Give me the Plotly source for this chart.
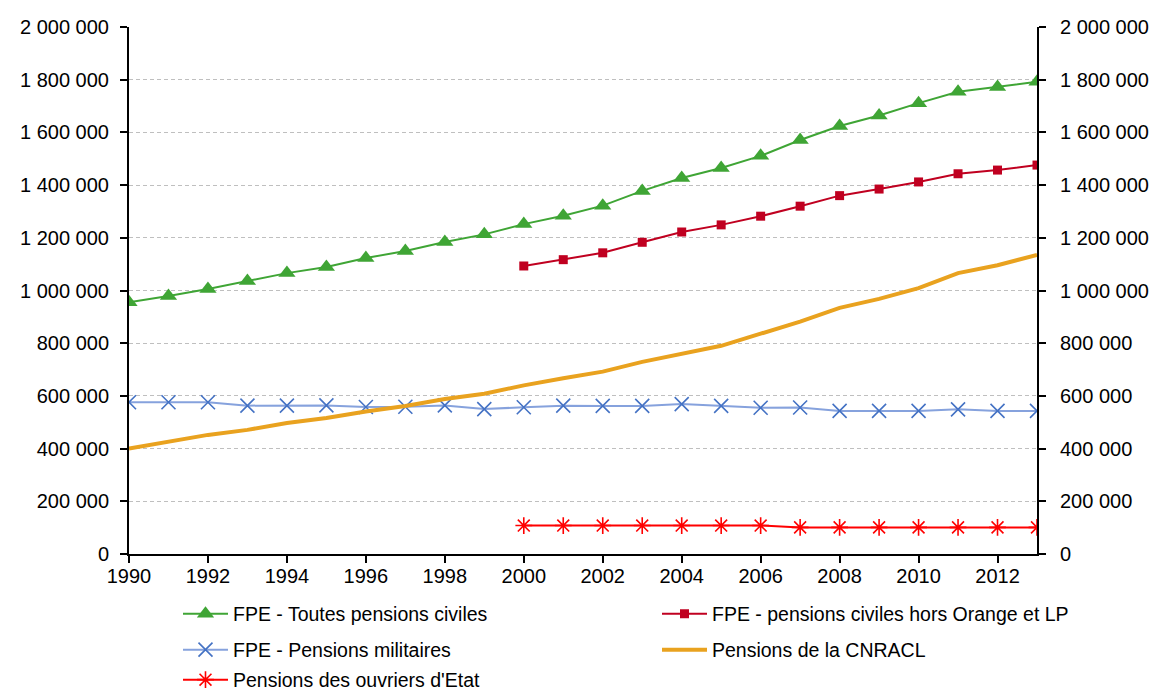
import plotly.graph_objects as go

years_all = list(range(1990, 2014))
years_2000 = list(range(2000, 2014))

# FPE - all civil pensions (1990-2013)
fpe_civiles = [955000, 979000, 1006000, 1036000, 1066000, 1089000, 1123000, 1150000,
               1184000, 1213000, 1252000, 1284000, 1322000, 1378000, 1427000, 1465000,
               1511000, 1571000, 1624000, 1664000, 1711000, 1754000, 1772000, 1792000]

# FPE - civil pensions excluding Orange and La Poste (2000-2013)
fpe_hors_orange_lp = [1093000, 1117000, 1143000, 1183000, 1222000, 1249000, 1282000,
                      1320000, 1360000, 1385000, 1412000, 1443000, 1457000, 1476000]

# FPE - military pensions (1990-2013)
fpe_militaires = [576000, 576000, 576000, 563000, 563000, 564000, 558000, 559000,
                  564000, 550000, 557000, 563000, 562000, 562000, 569000, 562000,
                  555000, 556000, 543000, 543000, 543000, 549000, 543000, 543000]

# CNRACL pensions (1990-2013)
cnracl = [400000, 426000, 452000, 471000, 497000, 516000, 541000, 562000,
          588000, 608000, 640000, 667000, 692000, 729000, 759000, 790000,
          836000, 882000, 934000, 968000, 1009000, 1066000, 1096000, 1135000]

# State workers' pensions (2000-2013)
ouvriers_etat = [108000, 108000, 108000, 108000, 108000, 108000, 108000,
                 101000, 101000, 101000, 101000, 101000, 101000, 101000]

FONT = "Liberation Sans, Arial, sans-serif"
W, H = 1162, 693
M_L, M_R, M_T, M_B = 129, 125, 27, 139

fig = go.Figure()

fig.add_trace(go.Scatter(
    x=years_all, y=fpe_civiles, mode="lines+markers",
    name="FPE - Toutes pensions civiles",
    line=dict(color="#3FA535", width=2),
    marker=dict(symbol="triangle-up", size=15, color="#3FA535"),
    legend="legend",
))
fig.add_trace(go.Scatter(
    x=years_2000, y=fpe_hors_orange_lp, mode="lines+markers",
    name="FPE - pensions civiles hors Orange et LP",
    line=dict(color="#C00020", width=2),
    marker=dict(symbol="square", size=9, color="#C00020"),
    legend="legend2",
))
fig.add_trace(go.Scatter(
    x=years_all, y=fpe_militaires, mode="lines+markers",
    name="FPE - Pensions militaires",
    line=dict(color="#86A2DD", width=2),
    marker=dict(symbol="x-thin-open", size=14, color="#4472C4",
                line=dict(color="#4472C4", width=1.6)),
    legend="legend3",
))
fig.add_trace(go.Scatter(
    x=years_all, y=cnracl, mode="lines",
    name="Pensions de la CNRACL",
    line=dict(color="#E9A21F", width=4),
    legend="legend4",
))
fig.add_trace(go.Scatter(
    x=years_2000, y=ouvriers_etat, mode="lines+markers",
    name="Pensions des ouvriers d'Etat",
    line=dict(color="#FF0000", width=2),
    marker=dict(symbol="asterisk-open", size=14, color="#FF0000",
                line=dict(color="#FF0000", width=1.6)),
    legend="legend5",
))

# Invisible trace so the right-hand axis is drawn
fig.add_trace(go.Scatter(
    x=[years_all[0]], y=[0], yaxis="y2", mode="markers",
    marker=dict(opacity=0), showlegend=False, hoverinfo="skip",
))

yaxis_common = dict(
    range=[0, 2000000], dtick=200000, tick0=0, tickformat=",",
    ticks="outside", ticklen=7, tickwidth=1.5, tickcolor="black",
    showline=True, linecolor="black", linewidth=2,
    tickfont=dict(family=FONT, size=20, color="black"),
    zeroline=False, automargin=False,
)


def legend_box(x_px, y_px):
    """One-entry legend placed by pixel position within the page."""
    return dict(
        orientation="v", bgcolor="rgba(0,0,0,0)",
        font=dict(family=FONT, size=19.5, color="black"),
        itemwidth=45,
        xref="paper", yref="container",
        xanchor="left", yanchor="middle",
        x=(x_px - M_L) / (W - M_L - M_R), y=1 - y_px / H,
    )


col1, col2 = 178, 657
row1, row2, row3 = 614, 650, 680

fig.update_layout(
    width=W, height=H,
    margin=dict(l=M_L, r=M_R, t=M_T, b=M_B),
    paper_bgcolor="white", plot_bgcolor="white",
    separators=", ",
    xaxis=dict(
        range=[1990, 2013], dtick=2, tick0=1990,
        ticks="outside", ticklen=7, tickwidth=1.5, tickcolor="black",
        showline=True, linecolor="black", linewidth=2,
        showgrid=False, zeroline=False, automargin=False,
        ticklabelstandoff=-4,
        tickfont=dict(family=FONT, size=20, color="black"),
    ),
    yaxis=dict(
        **yaxis_common, ticklabelstandoff=7,
        showgrid=True, gridcolor="#BFBFBF", gridwidth=1, griddash="4px,3px",
    ),
    yaxis2=dict(
        **yaxis_common, ticklabelstandoff=10,
        overlaying="y", side="right", showgrid=False,
    ),
    legend=legend_box(col1, row1),
    legend2=legend_box(col2, row1),
    legend3=legend_box(col1, row2),
    legend4=legend_box(col2, row2),
    legend5=legend_box(col1, row3),
    showlegend=True,
)

fig.write_html("out.html")
